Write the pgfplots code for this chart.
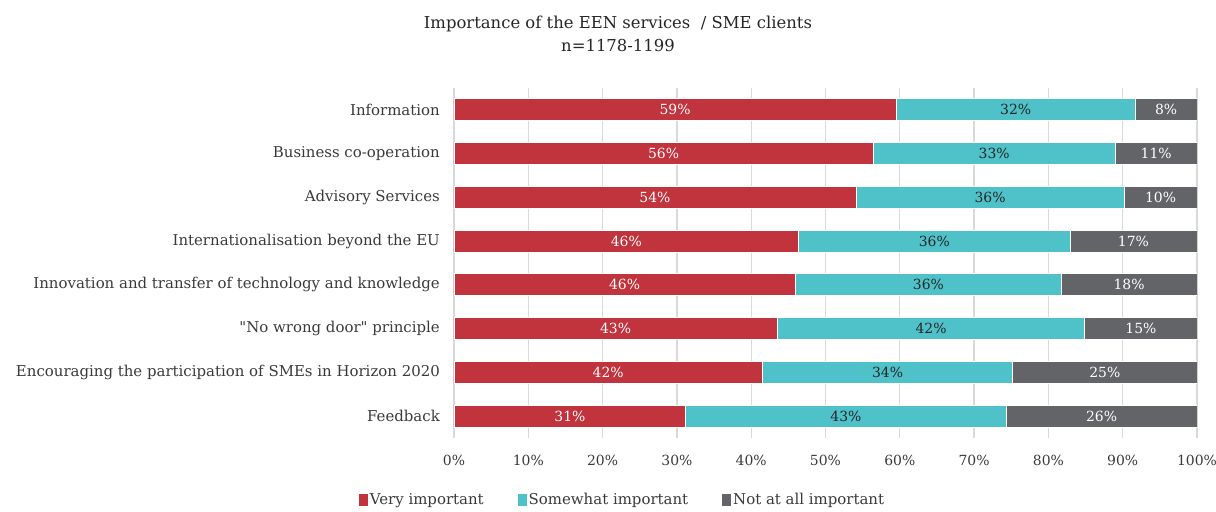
\documentclass[border=0pt]{standalone}
\usepackage{fontspec}
\setmainfont{DejaVu Serif}[Ligatures=TeXOff]
\usepackage{pgfplots}
\pgfplotsset{compat=1.18}
\definecolor{veryred}{HTML}{C1333D}
\definecolor{somecyan}{HTML}{4FC1C8}
\definecolor{notgrey}{HTML}{626468}
\definecolor{gridgrey}{HTML}{D9D9D9}
\definecolor{txtgrey}{HTML}{3A3A3A}
\definecolor{darktxt}{HTML}{262626}

% y: 0 = top category (y dir=reverse)
\pgfplotstableread{
y  very  some  not
0  59.5  32.2   8.3
1  56.4  32.6  11.0
2  54.1  36.1   9.8
3  46.4  36.5  17.1
4  45.9  35.8  18.3
5  43.5  41.4  15.1
6  41.5  33.7  24.8
7  31.2  43.1  25.7
}\servicedata

% label positions (segment middles) and the printed labels
\pgfplotstableread{
y  vx     vl  sx     sl  nx     nl
0  29.75  59  75.60  32  95.85   8
1  28.20  56  72.70  33  94.50  11
2  27.05  54  72.15  36  95.10  10
3  23.20  46  64.65  36  91.45  17
4  22.95  46  63.85  36  90.85  18
5  21.75  43  64.20  42  92.45  15
6  20.75  42  58.35  34  87.60  25
7  15.60  31  52.75  43  87.15  26
}\labeldata

\pgfplotsset{
  basestyle/.style={
    width=743bp, height=350bp, scale only axis,
    at={(0,0)}, anchor=south west,
    xmin=0, xmax=100, ymin=-0.5, ymax=7.5,
    y dir=reverse,
    axis line style={draw=none},
    major tick length=0pt,
  },
  barlabel/.style={
    only marks, mark=*, mark size=0pt,
    mark options={draw=none, fill=none},
    point meta=explicit symbolic,
    nodes near coords={\pgfplotspointmeta\%},
    every node near coord/.style={anchor=center, inner sep=0pt,
      font=\fontsize{14}{17}\selectfont, text=#1},
  },
}

\begin{document}
\begin{tikzpicture}
\path[use as bounding box] (-454bp,-74bp) rectangle (762bp,438bp);

\begin{axis}[
  basestyle,
  xbar stacked,
  bar width=22bp,
  xtick={0,10,...,100},
  xticklabel={\pgfmathprintnumber{\tick}\%},
  /pgf/number format/assume math mode=true,
  xmajorgrids,
  grid style={gridgrey, line width=1.3bp},
  ytick={0,...,7},
  yticklabels={Information, Business co-operation, Advisory Services,
    Internationalisation beyond the EU,
    Innovation and transfer of technology and knowledge,
    "No wrong door" principle,
    Encouraging the participation of SMEs in Horizon 2020, Feedback},
  yticklabel style={inner sep=0pt, xshift=-14bp, text=txtgrey,
    font=\fontsize{15}{18}\selectfont},
  xticklabel style={inner sep=0pt, yshift=-17bp, text=txtgrey,
    font=\fontsize{14}{17}\selectfont},
  legend style={at={(0.2268,-0.177)}, anchor=center, draw=none,
    legend columns=-1, text=txtgrey,
    font=\fontsize{15}{18}\selectfont,
    inner xsep=0pt,
    /tikz/every even column/.append style={column sep=32bp}},
  legend image code/.code={\fill[#1, draw=none] (0bp,-6bp) rectangle (9bp,6bp);},
]
\addplot[fill=veryred, draw=white, line width=0.8bp]
  table[x=very, y=y] {\servicedata};
\addplot[fill=somecyan, draw=white, line width=0.8bp]
  table[x=some, y=y] {\servicedata};
\addplot[fill=notgrey, draw=white, line width=0.8bp]
  table[x=not, y=y] {\servicedata};
\legend{Very important, Somewhat important, Not at all important}
\end{axis}

\begin{axis}[basestyle, hide axis]
\addplot[barlabel=white] table[x=vx, y=y, meta=vl] {\labeldata};
\addplot[barlabel=darktxt] table[x=sx, y=y, meta=sl] {\labeldata};
\addplot[barlabel=white] table[x=nx, y=y, meta=nl] {\labeldata};
\end{axis}

\node[align=center, text=darktxt, font=\fontsize{16.5}{23}\selectfont]
  at (164bp,404bp) {Importance of the EEN services\ \ / SME clients\\n=1178-1199};
\end{tikzpicture}
\end{document}
